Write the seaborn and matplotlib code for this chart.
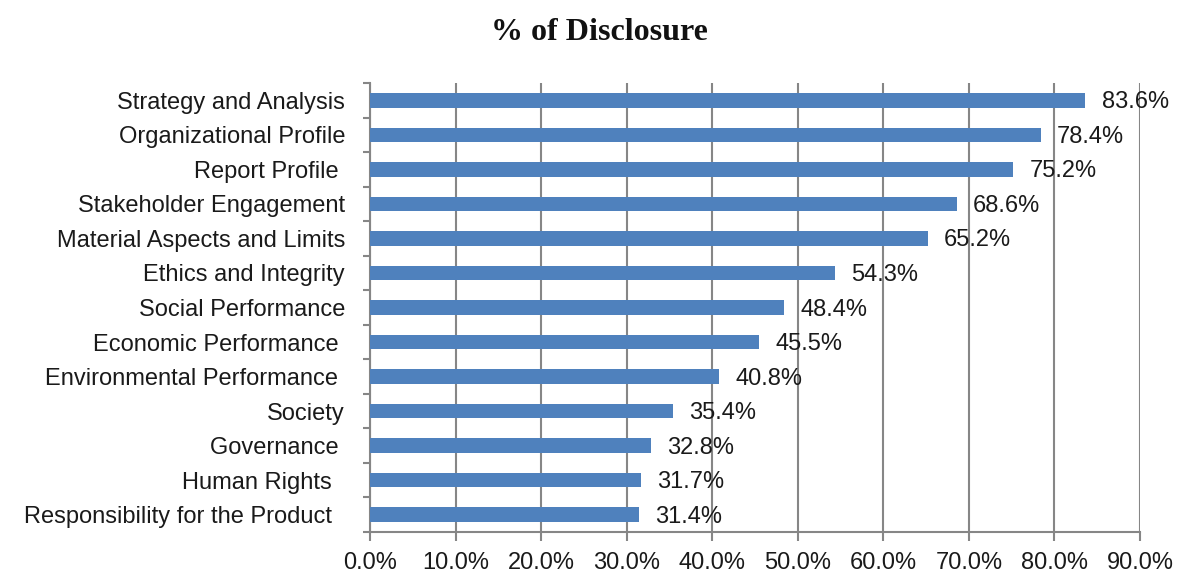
import numpy as np
import pandas as pd
import matplotlib
matplotlib.use("Agg")
import matplotlib.pyplot as plt
import seaborn as sns
from matplotlib.ticker import FixedLocator, FuncFormatter

# some source labels carry trailing spaces, which shifts them left a little
categories = [
    "Strategy and Analysis",
    "Organizational Profile",
    "Report Profile ",
    "Stakeholder Engagement",
    "Material Aspects and Limits",
    "Ethics and Integrity",
    "Social Performance",
    "Economic Performance ",
    "Environmental Performance ",
    "Society",
    "Governance ",
    "Human Rights  ",
    "Responsibility for the Product  ",
]
disclosure = [83.6, 78.4, 75.2, 68.6, 65.2, 54.3, 48.4, 45.5, 40.8, 35.4, 32.8, 31.7, 31.4]
x_ticks = [0, 10, 20, 30, 40, 50, 60, 70, 80, 90]

df = pd.DataFrame({"category": categories, "disclosure": disclosure})

sns.set_theme(style="white")
plt.rcParams["font.family"] = ["Liberation Sans", "DejaVu Sans"]

bar_color = "#4F81BD"
grid_color = "#868686"
text_color = "#1a1a1a"
fs = 17

fig = plt.figure(figsize=(11.8, 5.74), dpi=100)
ax = fig.add_axes([0.3136, 0.0732, 0.6525, 0.7822])

sns.barplot(data=df, x="disclosure", y="category", orient="h",
            color=bar_color, width=0.42, saturation=1, linewidth=0, ax=ax, zorder=3)

ax.set_xlim(0, 90)
ax.set_ylim(len(categories) - 0.5, -0.5)
ax.xaxis.set_major_locator(FixedLocator(x_ticks))
ax.xaxis.set_major_formatter(FuncFormatter(lambda v, p: f"{v:.1f}%"))
ax.grid(axis="x", color=grid_color, linewidth=1.5, zorder=0)
ax.set_axisbelow(True)

# category ticks sit between the bars
ax.yaxis.set_major_locator(FixedLocator(range(len(categories))))
ax.yaxis.set_minor_locator(FixedLocator(np.arange(-0.5, len(categories), 1)))
ax.tick_params(axis="y", which="major", length=0, pad=18, labelsize=fs, labelcolor=text_color)
ax.tick_params(axis="y", which="minor", length=5, width=1.5, color=grid_color, direction="out", left=True)
ax.tick_params(axis="x", which="major", length=6.5, width=1.5, color=grid_color, direction="out",
               bottom=True, pad=8, labelsize=fs, labelcolor=text_color)

for side in ["top", "right"]:
    ax.spines[side].set_visible(False)
for side in ["left", "bottom"]:
    ax.spines[side].set_color(grid_color)
    ax.spines[side].set_linewidth(1.5)

ax.set_xlabel("")
ax.set_ylabel("")

# value labels at bar ends
for i, v in enumerate(disclosure):
    ax.text(v + 1.9, i + 0.06, f"{v:.1f}%", va="center", ha="left", fontsize=fs,
            color=text_color, zorder=4)

fig.text(0.508, 0.944, "% of Disclosure", ha="center", va="center", fontsize=23,
         fontweight="bold", color="#111111", family=["Liberation Serif", "DejaVu Serif"])

fig.savefig("out.png", dpi=100)
